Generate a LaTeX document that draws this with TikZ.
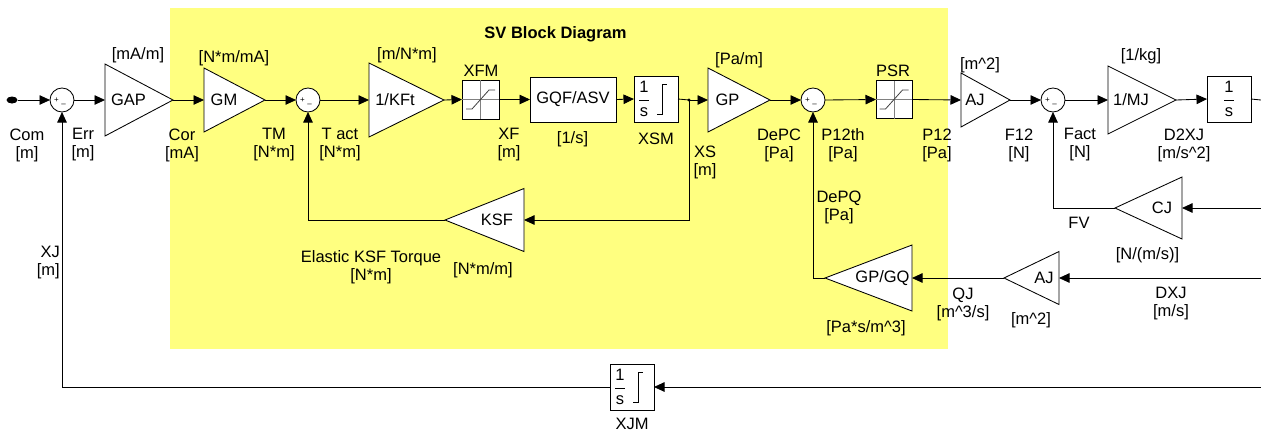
\documentclass[tikz,border=0pt]{standalone}
\usepackage{fontspec}
\setmainfont{Liberation Sans}
\usetikzlibrary{arrows.meta,shapes.geometric}
\definecolor{svyellow}{RGB}{255,255,128}
\newcommand{\oneOverS}{$\displaystyle\frac{\mbox{1}}{\mbox{s}}$}
\newcommand{\crt}{\textasciicircum}
\begin{document}
\begin{tikzpicture}[x=1pt,y=-1pt,
  lbl/.style={font=\fontsize{16.5}{18}\selectfont, inner sep=0pt, align=center},
  holder/.style n args={2}{minimum width=#1, minimum height=#2, inner sep=0pt, outer sep=0pt},
  tri/.style={draw=black, fill=white, line width=0.85pt, line join=miter},
  blk/.style={draw=black, fill=white, line width=0.85pt, inner sep=0pt, outer sep=0pt, font=\fontsize{16.5}{18}\selectfont},
  sumnode/.style={circle, draw=black, fill=white, minimum size=24pt, inner sep=0pt, outer sep=0pt, line width=0.85pt},
  sgn/.style={font=\fontsize{8}{9}\selectfont, inner sep=0pt},
  wire/.style={line width=0.85pt},
  sig/.style={line width=0.85pt, -{Triangle[length=10.5pt,width=9.5pt]}},
  axisline/.style={draw=black!50, line width=0.8pt},
  satline/.style={draw=black!75, line width=0.8pt}
]
\useasboundingbox (0,0) rectangle (1261,432);
\fill[white] (0,0) rectangle (1261,432);
\fill[svyellow] (170,8) rectangle (948,349);
\node[font=\bfseries\fontsize{16.5}{18}\selectfont, inner sep=0pt] (title) at (555.5,34) {SV Block Diagram};

% start point
\node[ellipse, fill=black, minimum width=11pt, minimum height=7pt, inner sep=0pt, outer sep=0pt] (start) at (12,100) {};

% summing junctions
\node[sumnode] (s1) at (62,100) {};
\node[sumnode] (s2) at (308,100) {};
\node[sumnode] (s3) at (813,100) {};
\node[sumnode] (s4) at (1053,100) {};
\foreach \s in {s1,s2,s3,s4} {
  \node[sgn] (\s-plus) at ([shift={(-5.5,0.5)}]\s.center) {+};
  \node[sgn] (\s-minus) at ([shift={(1.5,5.5)}]\s.center) {–};
}

% triangle holders (gains)
\node[holder={68}{72}] (gapH) at (139,100) {};
\node[holder={61}{64}] (gmH) at (234.5,100) {};
\node[holder={75}{74}] (kftH) at (406.5,100) {};
\node[holder={62}{64}] (gpH) at (739,100) {};
\node[holder={49}{54}] (ajH) at (985.5,100) {};
\node[holder={68}{68}] (mjH) at (1142,100) {};
\node[holder={79}{63}] (ksfH) at (484.5,220) {};
\node[holder={67}{62}] (cjH) at (1148.5,208) {};
\node[holder={55}{53}] (ajbH) at (1031.5,278) {};
\node[holder={87}{66}] (gpgqH) at (868.5,278) {};
\foreach \n in {gapH,gmH,kftH,gpH,ajH,mjH} {
  \draw[tri] (\n.north west) -- (\n.east) -- (\n.south west) -- cycle;
}
\foreach \n in {ksfH,cjH,ajbH,gpgqH} {
  \draw[tri] (\n.north east) -- (\n.west) -- (\n.south east) -- cycle;
}
\node[lbl] (gapT) at (128.5,100) {GAP};
\node[lbl] (gmT) at (224,100) {GM};
\node[lbl] (kftT) at (395,100) {1/KFt};
\node[lbl] (gpT) at (727.5,100) {GP};
\node[lbl] (ajT) at (975,100) {AJ};
\node[lbl] (mjT) at (1131,100) {1/MJ};
\node[lbl] (ksfT) at (497,220) {KSF};
\node[lbl] (cjT) at (1162,208) {CJ};
\node[lbl] (ajbT) at (1044,278) {AJ};
\node[lbl] (gpgqT) at (882.5,278) {GP/GQ};

% boxes
\node[blk, minimum width=37pt, minimum height=39pt] (xfm) at (480.5,99.5) {};
\node[blk, minimum width=86pt, minimum height=45pt] (gqf) at (573,99.5) {GQF/ASV};
\node[blk, minimum width=44pt, minimum height=46pt] (xsm) at (656,99) {};
\node[blk, minimum width=36pt, minimum height=38pt] (psr) at (894,99.5) {};
\node[blk, minimum width=44pt, minimum height=46pt] (ints) at (1229,99) {\oneOverS};
\node[blk, minimum width=44pt, minimum height=46pt] (xjm) at (632,387) {};

\foreach \b in {xfm,psr} {
  \draw[axisline] (\b.north) -- (\b.south);
  \draw[axisline] (\b.west) -- (\b.east);
  \draw[satline] ([shift={(-14.5,9.5)}]\b.center) -- ++(6,0) -- ++(17,-19) -- ++(6,0);
}
\foreach \b in {xsm,xjm} {
  \node[lbl] (\b-frac) at ([xshift=-12pt]\b.center) {\oneOverS};
  \draw[line width=0.8pt] ([shift={(1,15)}]\b.center) -- ++(5,0) -- ++(0,-30) -- ++(5,0);
}

% free ends and branch point
\coordinate (br) at (689,100);
\fill (br) circle (1.6pt);
\coordinate (outR) at (1261,100);
\coordinate (cjR) at (1261,208);
\coordinate (dxjR) at (1261,278);
\coordinate (xjR) at (1261,387);

% forward path
\draw[sig] (start.east) -- (s1.west);
\draw[sig] (s1.east) -- (gapH.west);
\draw[sig] (gapH.east) -- (gmH.west);
\draw[sig] (gmH.east) -- (s2.west);
\draw[sig] (s2.east) -- (kftH.west);
\draw[sig] (kftH.east) -- (xfm.west);
\draw[sig] (xfm.east) -- (gqf.west);
\draw[sig] (gqf.east) -- (xsm.west);
\draw[wire] (xsm.east) -- (br);
\draw[sig] (br) -- (gpH.west);
\draw[sig] (gpH.east) -- (s3.west);
\draw[sig] (s3.east) -- (psr.west);
\draw[sig] (psr.east) -- (ajH.west);
\draw[sig] (ajH.east) -- (s4.west);
\draw[sig] (s4.east) -- (mjH.west);
\draw[sig] (mjH.east) -- (ints.west);
\draw[wire] (ints.east) -- (outR);

% feedback paths
\draw[sig] (br) |- (ksfH.east);
\draw[sig] (ksfH.west) -| (s2.south);
\draw[sig] (cjR) -- (cjH.east);
\draw[sig] (cjH.west) -| (s4.south);
\draw[sig] (dxjR) -- (ajbH.east);
\draw[sig] (ajbH.west) -- (gpgqH.east);
\draw[sig] (gpgqH.west) -| (s3.south);
\draw[sig] (xjR) -- (xjm.east);
\draw[sig] (xjm.west) -| (s1.south);

% labels
\node[lbl] (lCom) at (27,145) {Com\\{}[m]};
\node[lbl] (lErr) at (83,145) {Err\\{}[m]};
\node[lbl] (lCor) at (182,145) {Cor\\{}[mA]};
\node[lbl] (lTM) at (274,145) {TM\\{}[N*m]};
\node[lbl] (lTact) at (340,144.5) {T act\\{}[N*m]};
\node[lbl] (lXF) at (509,145) {XF\\{}[m]};
\node[lbl] (lGQF) at (572.5,139) {[1/s]};
\node[lbl] (lXSM) at (656,139) {XSM};
\node[lbl] (lXS) at (705,162.5) {XS\\{}[m]};
\node[lbl] (lDePC) at (779,145) {DePC\\{}[Pa]};
\node[lbl] (lP12th) at (843,145) {P12th\\{}[Pa]};
\node[lbl] (lP12) at (937,145) {P12\\{}[Pa]};
\node[lbl] (lF12) at (1019,145) {F12\\{}[N]};
\node[lbl] (lFact) at (1080,145) {Fact\\{}[N]};
\node[lbl] (lD2XJ) at (1184,145) {D2XJ\\{}[m/s\crt 2]};
\node[lbl] (uGAP) at (138,55.5) {[mA/m]};
\node[lbl] (uGM) at (234,58.5) {[N*m/mA]};
\node[lbl] (uKFt) at (407,55.5) {[m/N*m]};
\node[lbl] (lXFM) at (481,71) {XFM};
\node[lbl] (uGP) at (739,60) {[Pa/m]};
\node[lbl] (lPSR) at (893,70.5) {PSR};
\node[lbl] (uAJ) at (980,65.5) {[m\crt 2]};
\node[lbl] (uMJ) at (1141,56.5) {[1/kg]};
\node[lbl] (uKSF) at (483,270.5) {[N*m/m]};
\node[lbl] (lElastic) at (371,267) {Elastic KSF Torque\\{}[N*m]};
\node[lbl] (lDePQ) at (839,207.5) {DePQ\\{}[Pa]};
\node[lbl] (lFV) at (1079,222.5) {FV};
\node[lbl] (uCJ) at (1147.5,255.5) {[N/(m/s)]};
\node[lbl] (lQJ) at (963,304.5) {QJ\\{}[m\crt 3/s]};
\node[lbl] (uAJb) at (1031,320.5) {[m\crt 2]};
\node[lbl] (lDXJ) at (1171,303.5) {DXJ\\{}[m/s]};
\node[lbl] (uGPGQ) at (866,328.5) {[Pa*s/m\crt 3]};
\node[lbl, align=right, anchor=east] (lXJ) at (60,262.5) {XJ\\{}[m]};
\node[lbl] (lXJM) at (632,424) {XJM};
\end{tikzpicture}
\end{document}
